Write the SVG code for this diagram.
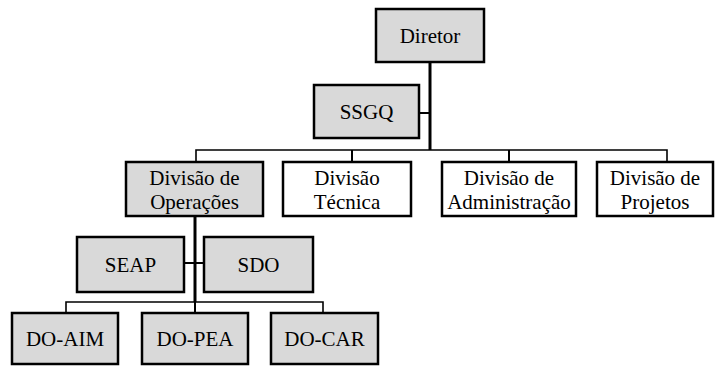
<svg xmlns="http://www.w3.org/2000/svg" width="721" height="366" viewBox="0 0 721 366">
<style>
.box{stroke:#000;stroke-width:2.5;}
.g{fill:#d9d9d9;}
.w{fill:#fff;}
text{font-family:'Liberation Serif','Times New Roman',Times,'DejaVu Serif',serif;font-size:21px;fill:#000;text-anchor:middle;}
.thick{stroke:#000;stroke-width:3;fill:none;}
.thin{stroke:#000;stroke-width:1.6;fill:none;}
.mid{stroke:#000;stroke-width:2;fill:none;}
</style>
<rect width="721" height="366" fill="#fff"/>
<g id="connectors">
<line class="thick" x1="430" y1="62" x2="430" y2="150"/>
<line class="mid" x1="419" y1="113" x2="430" y2="113"/>
<polyline class="thin" points="196,162 196,150 667,150 667,162"/>
<line class="mid" x1="352" y1="150" x2="352" y2="162"/>
<line class="mid" x1="509" y1="150" x2="509" y2="162"/>
<line class="thick" x1="195" y1="216" x2="195" y2="302"/>
<line class="mid" x1="184" y1="263" x2="204" y2="263"/>
<polyline class="thin" points="66,313 66,302 323,302 323,313"/>
<line class="mid" x1="195" y1="302" x2="195" y2="313"/>
</g>
<g id="diretor"><rect class="box g" x="376" y="9" width="108" height="53"/><text x="430" y="43">Diretor</text></g>
<g id="ssgq"><rect class="box g" x="314" y="85" width="105" height="53"/><text x="366.5" y="119">SSGQ</text></g>
<g id="div-operacoes"><rect class="box g" x="126" y="162" width="137" height="54"/><text x="194.5" y="185">Divisão de</text><text x="194.5" y="209">Operações</text></g>
<g id="div-tecnica"><rect class="box w" x="283" y="162" width="128" height="54"/><text x="347" y="185">Divisão</text><text x="347" y="209">Técnica</text></g>
<g id="div-administracao"><rect class="box w" x="442" y="162" width="134" height="54"/><text x="509" y="185">Divisão de</text><text x="509" y="209">Administração</text></g>
<g id="div-projetos"><rect class="box w" x="597" y="162" width="116" height="54"/><text x="655" y="185">Divisão de</text><text x="655" y="209">Projetos</text></g>
<g id="seap"><rect class="box g" x="77" y="237" width="107" height="55"/><text x="130.5" y="272">SEAP</text></g>
<g id="sdo"><rect class="box g" x="204" y="237" width="109" height="55"/><text x="258.5" y="272">SDO</text></g>
<g id="do-aim"><rect class="box g" x="12" y="313" width="106" height="51"/><text x="65" y="346">DO-AIM</text></g>
<g id="do-pea"><rect class="box g" x="142" y="313" width="106" height="51"/><text x="195" y="346">DO-PEA</text></g>
<g id="do-car"><rect class="box g" x="271" y="313" width="107" height="51"/><text x="324.5" y="346">DO-CAR</text></g>
</svg>
